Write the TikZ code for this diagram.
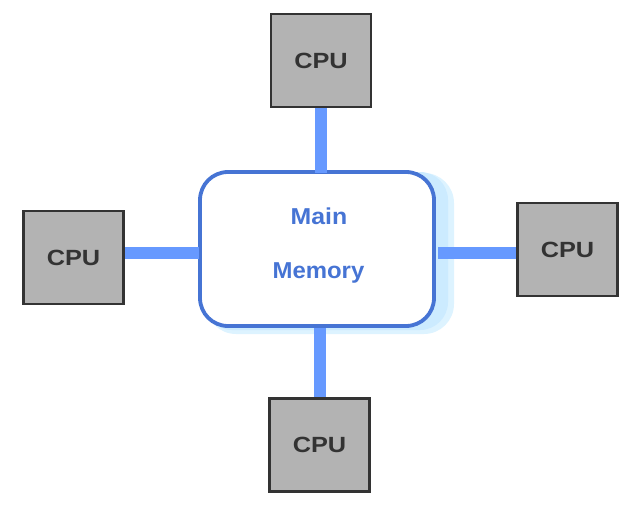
\documentclass[tikz,border=0pt]{standalone}
\usepackage{fontspec}
\setmainfont{Liberation Sans}
\definecolor{cpufill}{HTML}{B3B3B3}
\definecolor{cpuline}{HTML}{333333}
\definecolor{memline}{HTML}{4674D4}
\definecolor{busblue}{HTML}{6699FF}
\definecolor{shadowA}{HTML}{DDF3FF}
\definecolor{shadowB}{HTML}{CCEBFF}
\begin{document}
\begin{tikzpicture}[x=1pt,y=-1pt,
  cpubox/.style={draw=cpuline, line width=2.8pt, fill=cpufill, rectangle, inner sep=0pt,
    minimum width=100pt, minimum height=93pt, text=cpuline,
    font=\fontsize{22}{24}\selectfont\bfseries},
  membox/.style={draw=memline, line width=3.8pt, fill=white, rectangle, rounded corners=28pt,
    minimum width=234pt, minimum height=154pt, inner sep=0pt},
  memtext/.style={text=memline, font=\fontsize{23}{26}\selectfont\bfseries, inner sep=0pt, anchor=base},
  bus/.style={draw=busblue, line width=12pt}]
\useasboundingbox (0,0) rectangle (634,508);
% shadow
\fill[shadowA, rounded corners=30pt] (206,173) rectangle (454,334);
\fill[shadowB, rounded corners=28pt] (204,172) rectangle (448,330);
% nodes
\node[membox] (mem) at (317,249) {};
\node[cpubox] (cpuT) at (321,60.5) {\scalebox{1.15}[1]{CPU}};
\node[cpubox] (cpuL) at (73.5,257.5) {\scalebox{1.15}[1]{CPU}};
\node[cpubox] (cpuR) at (567.5,249.5) {\scalebox{1.15}[1]{CPU}};
\node[cpubox] (cpuB) at (319.5,445) {\scalebox{1.15}[1]{CPU}};
\node[memtext] (tmain) at (319,224) {\scalebox{1.08}[1]{Main}};
\node[memtext] (tmem) at (318.5,278) {\scalebox{1.04}[1]{Memory}};
% connectors
\draw[bus] (cpuT.south) -- ([yshift=-3pt]cpuT.south |- mem.north);
\draw[bus] (cpuB.north) -- (cpuB.north |- mem.south);
\draw[bus] (cpuL.east |- 0,253) -- ([xshift=1pt]mem.west |- 0,253);
\draw[bus] (cpuR.west |- 0,253) -- ([xshift=2pt]mem.east |- 0,253);
\end{tikzpicture}
\end{document}
